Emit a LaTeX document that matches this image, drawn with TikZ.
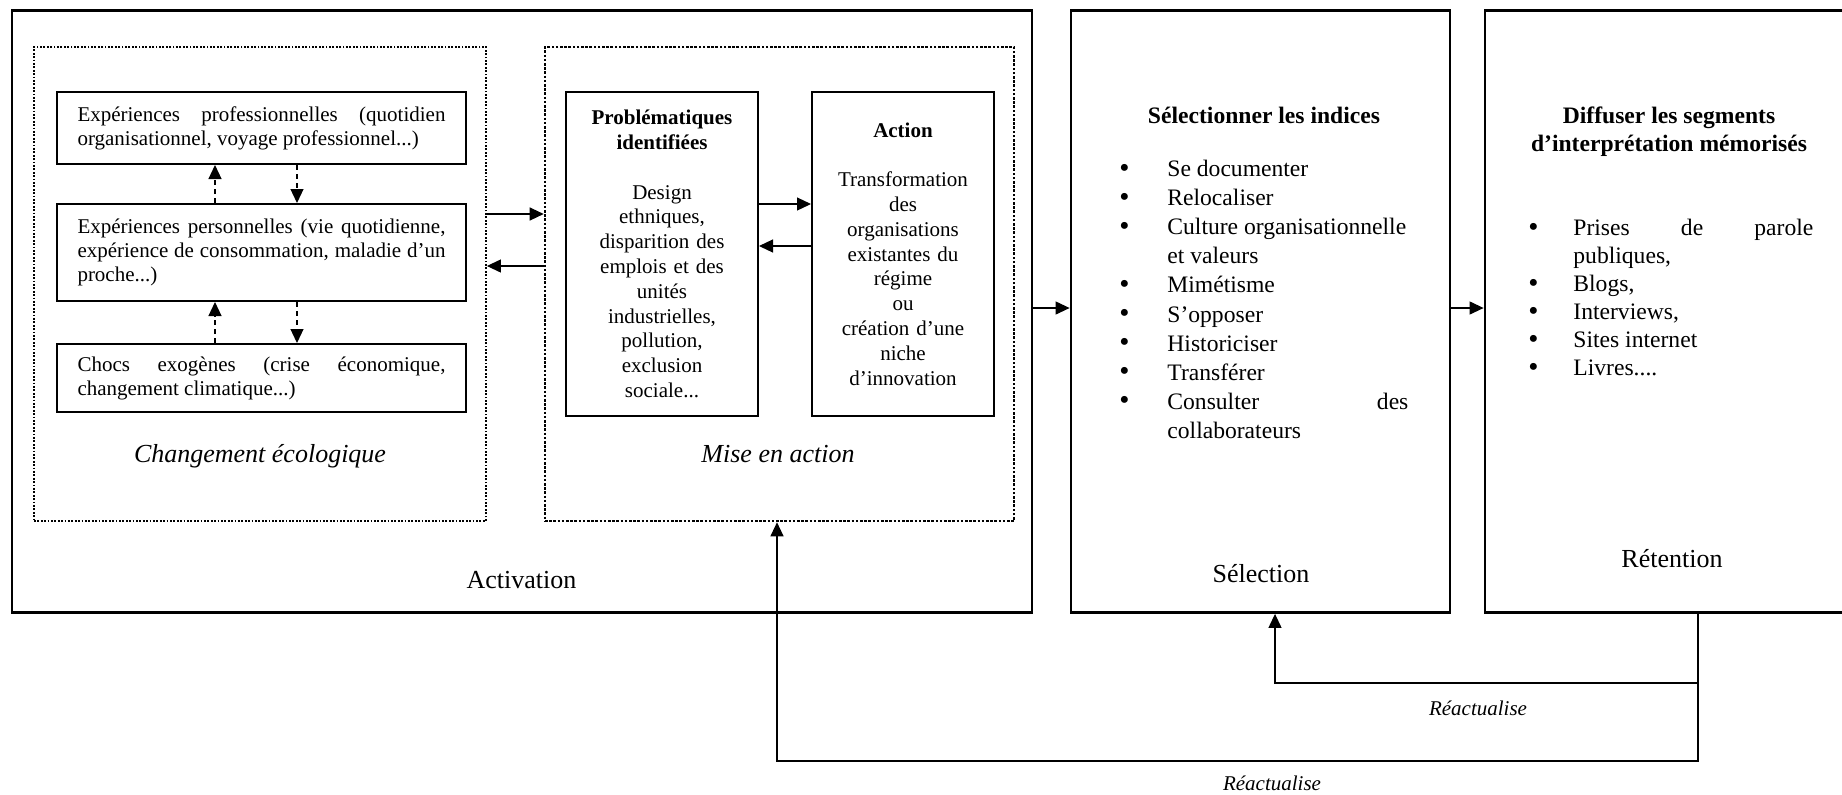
\documentclass[tikz,border=0pt]{standalone}
\usepackage{fontspec}
\setmainfont{Liberation Serif}
\usetikzlibrary{arrows.meta}
\usetikzlibrary{calc}
\tikzset{stage/.style={draw, line width=1.4pt, inner sep=0pt},
         zone/.style={draw, line width=#1, dash pattern=on #1 off 0.8pt, inner sep=0pt},
         expbox/.style={draw, line width=1pt, text width=184pt, align=justify,
            inner xsep=10.25pt, inner ysep=0pt, font=\fontsize{10.5}{12}\selectfont},
         colbox/.style={draw, line width=1pt, align=center, minimum height=162pt,
            inner xsep=3pt, inner ysep=0pt, font=\fontsize{10.5}{12.4}\selectfont},
         liste/.style={align=justify, inner sep=0pt, anchor=north west},
         label/.style={font=\fontsize{13}{15}\selectfont, anchor=base},
         arr/.style={-{Triangle[length=7pt,width=6.5pt]}, line width=0.6pt},
         dasharr/.style={arr, dash pattern=on 2.5pt off 2pt}}
\newcommand{\puce}[2][24pt]{\par\hangindent=#1\hangafter=1\noindent
   \makebox[#1][l]{\raisebox{-0.3pt}{\fontsize{14.5}{0}\selectfont\textbullet}}#2}

\begin{document}
\begin{tikzpicture}[x=0.5pt, y=-0.5pt]
\useasboundingbox (0,0) rectangle (1842,794);
\clip (0,0) rectangle (1842,794);
% les trois etapes
\node[stage, minimum width=510pt, minimum height=301pt] (act) at (522,311.5) {};
\node[stage, minimum width=189.5pt, minimum height=301pt] (sel) at (1260.5,311.5) {};
\node[stage, minimum width=187.5pt, minimum height=301pt] (ret) at (1672.5,311.5) {};

% changement ecologique
\node[zone=0.9pt, minimum width=226pt, minimum height=237pt] (eco) at (260,284) {};
\node[expbox, minimum height=36pt] (pro) at (261.5,128)
   {Expériences professionnelles (quotidien\linebreak organisationnel, voyage professionnel...)};
\node[expbox, minimum height=48.5pt] (perso) at (261.5,252.5)
   {Expériences personnelles (vie quotidienne,\linebreak expérience de consommation, maladie d’un\linebreak proche...)};
\node[expbox, minimum height=34pt] (choc) at (261.5,378)
   {Chocs exogènes (crise économique,\linebreak changement climatique...)};
\node[label, font=\fontsize{13}{15}\selectfont\itshape] (ecolab) at (260,462) {Changement écologique};

\draw[dasharr] ([xshift=-23.25pt]perso.north) -- ([xshift=-23.25pt]pro.south);
\draw[dasharr] ([xshift=17.75pt]pro.south) -- ([xshift=17.75pt]perso.north);
\draw[dasharr] ([xshift=-23.25pt]choc.north) -- ([xshift=-23.25pt]perso.south);
\draw[dasharr] ([xshift=17.75pt]perso.south) -- ([xshift=17.75pt]choc.north);

% mise en action
\node[zone=1.3pt, minimum width=234.5pt, minimum height=237pt] (mise) at (779.5,284) {};
\node[colbox, text width=90pt] (prob) at (662,254)
   {\textbf{Problématiques}\\\textbf{identifiées}\\[12.4pt]Design\\ethniques,\\disparition des\\emplois et des\\unités\\industrielles,\\pollution,\\exclusion\\sociale...};
\node[colbox, text width=85pt] (action) at (903,254)
   {\textbf{Action}\\[12.4pt]Transformation\\des\\organisations\\existantes du\\régime\\ou\\création d’une\\niche\\d’innovation};
\node[label, font=\fontsize{13}{15}\selectfont\itshape] (miselab) at (778,462) {Mise en action};

\draw[arr] ([yshift=25pt]prob.east) -- ([yshift=25pt]action.west);
\draw[arr] ([yshift=4pt]action.west) -- ([yshift=4pt]prob.east);
\draw[arr] ([yshift=35pt]eco.east) -- ([yshift=35pt]mise.west);
\draw[arr] ([yshift=9pt]mise.west) -- ([yshift=9pt]eco.east);

\node[label] (actlab) at (521.5,588) {Activation};

% selection
\node[font=\fontsize{11.8}{14}\selectfont\bfseries, anchor=base] (selhead) at (1264,123) {Sélectionner les indices};
\node[liste, text width=144.5pt, font=\fontsize{11.8}{14.55}\selectfont] (selitems) at (1119,147)
   {\puce{Se documenter}\puce{Relocaliser}\puce{Culture organisationnelle\\et valeurs}\puce{Mimétisme}%
    \puce{S’opposer}\puce{Historiciser}\puce{Transférer}\puce{Consulter des\linebreak collaborateurs}\par};
\node[label] (sellab) at (1261,582) {Sélection};

% retention
\node[font=\fontsize{11.8}{14}\selectfont\bfseries, align=center, anchor=north] (rethead) at (1669,100)
   {Diffuser les segments\\d’interprétation mémorisés};
\node[liste, text width=142.5pt, font=\fontsize{11.8}{14}\selectfont] (retitems) at (1528,207)
   {\puce[22.5pt]{Prises de parole\linebreak publiques,}\puce[22.5pt]{Blogs,}\puce[22.5pt]{Interviews,}%
    \puce[22.5pt]{Sites internet}\puce[22.5pt]{Livres....}\par};
\node[label] (retlab) at (1672,567) {Rétention};

% liens entre etapes
\draw[arr] ([yshift=1.75pt]act.east) -- ([yshift=1.75pt]sel.west);
\draw[arr] ([yshift=1.75pt]sel.east) -- ([yshift=1.75pt]ret.west);

% boucles de retour
\coordinate (boucleA) at (1698,683);
\coordinate (boucleB) at (1698,761);
\draw[arr] ([xshift=12.75pt]ret.south) -- (boucleA) -| ([xshift=7.25pt]sel.south);
\draw[arr] ([xshift=12.75pt]ret.south) -- (boucleB) -| ([xshift=-1.25pt]mise.south);
\node[font=\fontsize{10.5}{12}\selectfont\itshape, anchor=base] (react1) at (1478,715) {Réactualise};
\node[font=\fontsize{10.5}{12}\selectfont\itshape, anchor=base] (react2) at (1272,790) {Réactualise};
\end{tikzpicture}
\end{document}
